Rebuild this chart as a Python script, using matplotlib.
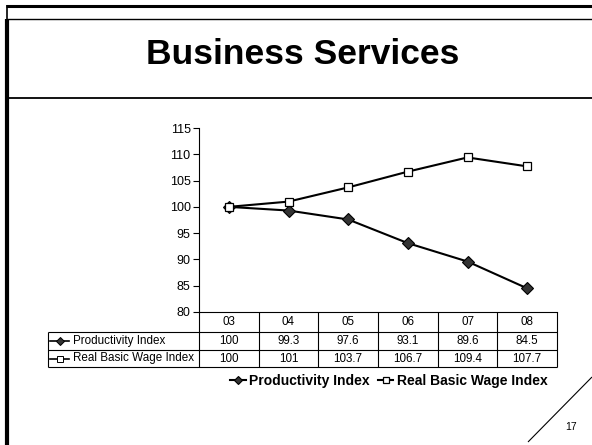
import matplotlib
matplotlib.use("Agg")
import matplotlib.pyplot as plt
from matplotlib.lines import Line2D
from matplotlib.transforms import blended_transform_factory

plt.rcParams['font.family'] = ['Liberation Sans', 'DejaVu Sans']

# data
years = ['03', '04', '05', '06', '07', '08']
productivity = [100, 99.3, 97.6, 93.1, 89.6, 84.5]
wage = [100, 101, 103.7, 106.7, 109.4, 107.7]
series_names = ['Productivity Index', 'Real Basic Wage Index']
title = 'Business Services'
page_no = '17'

W, H = 592, 445


def fx(x):
    return x / W


def fy(y):
    return 1 - y / H


fig = plt.figure(figsize=(W / 100, H / 100), dpi=100)

# slide frame
def pline(x0, y0, x1, y1, lw, color='black'):
    fig.add_artist(Line2D([fx(x0), fx(x1)], [fy(y0), fy(y1)], lw=lw, color=color,
                          solid_capstyle='butt'))

pline(6, 5.5, W, 5.5, 2.2)
pline(7, 19, W, 19, 1.0)
pline(7, 98, W, 98, 1.3)
pline(7, 5, 7, 19, 1.2)
pline(6.5, 19, 6.5, H, 3.0)
pline(592, 377, 528, 442, 0.8)
fig.text(fx(571), fy(427), page_no, fontsize=7.5, ha='center', va='center')

fig.text(fx(303), fy(54), title, fontsize=25.5, fontweight='bold', ha='center', va='center')

# chart area
left, right, top, bottom = 199, 557, 128, 312
ax = fig.add_axes([fx(left), fy(bottom), fx(right) - fx(left), fy(top) - fy(bottom)])
x = range(len(years))
ax.plot(x, productivity, color='black', lw=1.5, marker='D', ms=6,
        mfc='#333333', mec='black', mew=0.8, label=series_names[0])
ax.plot(x, wage, color='black', lw=1.5, marker='s', ms=6,
        mfc='white', mec='black', mew=0.9, label=series_names[1])
ax.set_xlim(-0.5, len(years) - 0.5)
ax.set_ylim(80, 115)
ax.set_yticks(range(80, 116, 5))
ax.set_xticks([])
ax.tick_params(axis='y', length=4, width=0.8, labelsize=9, pad=2)
for s in ['top', 'right']:
    ax.spines[s].set_visible(False)
ax.spines['left'].set_linewidth(0.8)
ax.spines['bottom'].set_linewidth(0.8)

# data table below the axis
tr = blended_transform_factory(ax.transData, fig.transFigure)
row_lines = [312, 332, 349.5, 367]
label_left = 48
col_w = (right - left) / len(years)
tsize = 8.4

for i, yr in enumerate(years):
    ax.text(i, fy(322), yr, transform=tr, ha='center', va='center', fontsize=tsize, clip_on=False)
    ax.text(i, fy(341), f'{productivity[i]:g}', transform=tr, ha='center', va='center',
            fontsize=tsize, clip_on=False)
    ax.text(i, fy(358.5), f'{wage[i]:g}', transform=tr, ha='center', va='center',
            fontsize=tsize, clip_on=False)

for k in range(len(years) + 1):
    xx = left + k * col_w
    pline(xx, row_lines[0], xx, row_lines[3], 0.8)
for yy in row_lines[1:]:
    pline(label_left, yy, right, yy, 0.8)
pline(label_left, row_lines[1], label_left, row_lines[3], 0.8)

# row labels with series glyphs
styles = [dict(marker='D', mfc='#333333'), dict(marker='s', mfc='white')]
for (name, st, yc) in zip(series_names, styles, [341, 358.5]):
    fig.add_artist(Line2D([fx(50), fx(69)], [fy(yc), fy(yc)], color='black', lw=1.2))
    fig.add_artist(Line2D([fx(59.5)], [fy(yc)], marker=st['marker'], ms=4.5,
                          mfc=st['mfc'], mec='black', mew=0.7, lw=0))
    fig.text(fx(73), fy(yc), name, fontsize=tsize, ha='left', va='center')

# legend
leg = fig.legend(loc='center', bbox_to_anchor=(fx(389), fy(381)), ncol=2, frameon=False,
                 prop={'weight': 'bold', 'size': 10}, handlelength=1.1,
                 handletextpad=0.25, columnspacing=0.6, markerscale=0.68)

fig.savefig('out.png', dpi=100)
